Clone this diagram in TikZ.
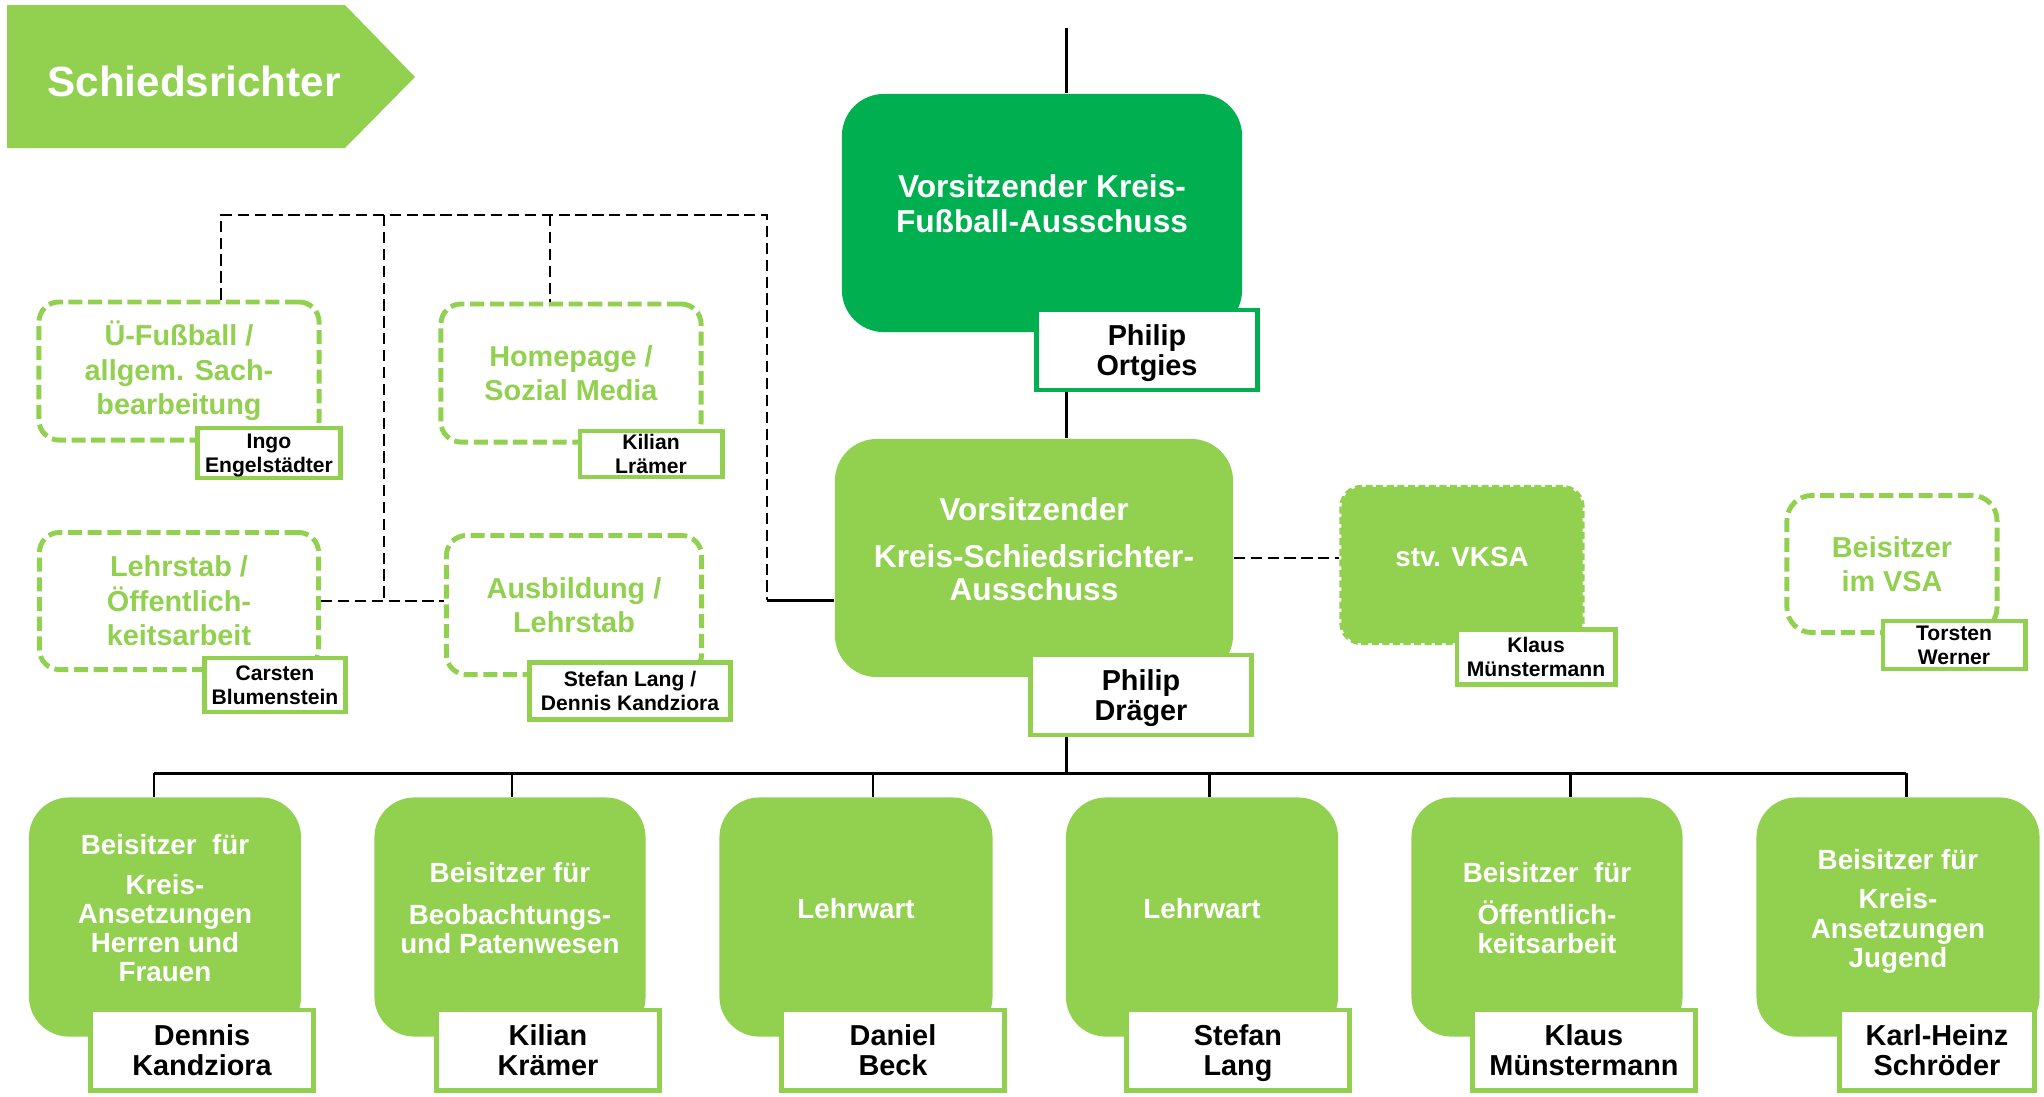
\documentclass[tikz,border=0pt]{standalone}
\usepackage{fontspec}
\setmainfont{Liberation Sans}
\usetikzlibrary{positioning}
\definecolor{kfagreen}{HTML}{00B050}
\definecolor{ksgreen}{HTML}{92D050}
\tikzset{
  bannertext/.style={text=white, font=\bfseries\fontsize{12}{14}\selectfont},
  leadbox/.style={rectangle, rounded corners=0.42cm, fill=ksgreen, text=white, align=center, inner sep=0pt,
    text depth=5.2pt, font=\bfseries\fontsize{9}{9.4}\selectfont},
  seatbox/.style={rectangle, rounded corners=0.4cm, fill=ksgreen, text=white, align=center, inner sep=0pt,
    minimum height=2.39cm, text depth=5pt, font=\bfseries\fontsize{7.9}{8.3}\selectfont},
  staffbox/.style={rectangle, rounded corners=0.2cm, draw=ksgreen, line width=1.4pt, dash pattern=on 4pt off 1.6pt,
    fill=white, text=ksgreen, align=center, inner sep=0pt, font=\bfseries\fontsize{8.2}{9.8}\selectfont},
  vksabox/.style={rectangle, rounded corners=0.2cm, fill=ksgreen, draw=ksgreen, line width=1.2pt,
    dash pattern=on 2pt off 1pt, text=white, inner sep=0pt, text depth=4.5pt, font=\bfseries\fontsize{7.9}{9}\selectfont},
  namebox/.style={rectangle, draw=ksgreen, line width=1.4pt, fill=white, text=black, align=center, inner sep=0pt,
    minimum height=0.8cm, text depth=0pt, font=\bfseries\fontsize{8.2}{8.5}\selectfont},
  namesmall/.style={namebox, font=\bfseries\fontsize{6}{6.8}\selectfont},
  conn/.style={black, line width=0.85pt},
  dconn/.style={black, line width=0.7pt, dash pattern=on 3.2pt off 1.6pt}
}
\begin{document}
\begin{tikzpicture}[x=0.01cm, y=-0.01cm]
\useasboundingbox (0,0) rectangle (2044,1096);

% Banner
\fill[ksgreen] (7,5) -- (345,5) -- (415,77) -- (345,148) -- (7,148) -- cycle;
\node[bannertext] (banner) at (194,81) {Schiedsrichter};

% Kreis-Fussball-Ausschuss
\node[leadbox, fill=kfagreen, minimum width=4.0cm, minimum height=2.38cm, text depth=5.6pt,
  font=\bfseries\fontsize{9}{9.9}\selectfont] (kfa) at (1042,213)
  {Vorsitzender Kreis-\\Fußball-Ausschuss};
\node[namebox, draw=kfagreen, minimum width=2.2cm] (kfaname) at (1147,350) {Philip\\Ortgies};

% Kreis-Schiedsrichter-Ausschuss
\node[leadbox, minimum width=3.98cm, minimum height=2.38cm] (ksa) at (1034,558)
  {Vorsitzender\\[4pt]Kreis-Schiedsrichter-\\Ausschuss};
\node[namebox, minimum width=2.21cm] (ksaname) at (1141,695) {Philip\\Dräger};

% Stab (gestrichelt)
\node[staffbox, minimum width=2.8cm, minimum height=1.38cm] (uefb) at (179,371) {Ü-Fußball /\\allgem. Sach-\\bearbeitung};
\node[namesmall, minimum width=1.42cm, minimum height=0.5cm] (uefbname) at (269,453) {Ingo\\Engelstädter};
\node[staffbox, minimum width=2.6cm, minimum height=1.38cm] (web) at (571,373) {Homepage /\\Sozial Media};
\node[namesmall, minimum width=1.42cm, minimum height=0.46cm] (webname) at (651,454) {Kilian\\Lrämer};
\node[staffbox, minimum width=2.79cm, minimum height=1.37cm] (pr) at (179,601) {Lehrstab /\\Öffentlich-\\keitsarbeit};
\node[namesmall, minimum width=1.41cm, minimum height=0.54cm] (prname) at (275,685) {Carsten\\Blumenstein};
\node[staffbox, minimum width=2.55cm, minimum height=1.39cm] (edu) at (574,605) {Ausbildung /\\Lehrstab};
\node[namesmall, minimum width=2.01cm, minimum height=0.57cm] (eduname) at (630,691) {Stefan Lang /\\Dennis Kandziora};

% Stellvertreter und VSA
\node[vksabox, minimum width=2.41cm, minimum height=1.56cm] (vksa) at (1462,565) {stv. VKSA};
\node[namesmall, minimum width=1.58cm, minimum height=0.55cm] (vksaname) at (1536,657) {Klaus\\Münstermann};
\node[staffbox, rounded corners=0.25cm, minimum width=2.1cm, minimum height=1.37cm] (vsa) at (1892,564) {Beisitzer\\im VSA};
\node[namesmall, minimum width=1.42cm, minimum height=0.48cm] (vsaname) at (1954,645) {Torsten\\Werner};

% Beisitzer
\node[seatbox, minimum width=2.72cm] (s1) at (165,917) {Beisitzer\ \ für\\[3pt]Kreis-\\Ansetzungen\\Herren und\\Frauen};
\node[namebox, minimum width=2.22cm] (s1name) at (202,1050) {Dennis\\Kandziora};
\node[seatbox, minimum width=2.71cm] (s2) at (510,917) {Beisitzer für\\[3.5pt]Beobachtungs-\\und Patenwesen};
\node[namebox, minimum width=2.23cm] (s2name) at (548,1050) {Kilian\\Krämer};
\node[seatbox, minimum width=2.73cm] (s3) at (856,917) {Lehrwart};
\node[namebox, minimum width=2.22cm] (s3name) at (893,1050) {Daniel\\Beck};
\node[seatbox, minimum width=2.72cm] (s4) at (1202,917) {Lehrwart};
\node[namebox, minimum width=2.22cm] (s4name) at (1238,1050) {Stefan\\Lang};
\node[seatbox, minimum width=2.71cm] (s5) at (1547,917) {Beisitzer\ \ für\\[3.5pt]Öffentlich-\\keitsarbeit};
\node[namebox, minimum width=2.22cm] (s5name) at (1584,1050) {Klaus\\Münstermann};
\node[seatbox, minimum width=2.83cm] (s6) at (1898,917) {Beisitzer für\\[3pt]Kreis-\\Ansetzungen\\Jugend};
\node[namebox, minimum width=1.95cm] (s6name) at (1937,1050) {Karl-Heinz\\Schröder};

% Linien
\coordinate (top) at (1066,28);
\coordinate (bus) at (1066,773);
\coordinate (busL) at (154,773);
\coordinate (busR) at (1906,773);
\draw[conn] (top) -- (top |- kfa.north);
\draw[conn] (kfaname.south -| top) -- (top |- ksa.north);
\draw[conn] (ksaname.south -| top) -- (bus);
\draw[conn] (busL) -- (busR);
\foreach \s/\x in {s1/154, s2/512, s3/873, s4/1209, s5/1570, s6/1906}
  \draw[conn] (\x,773) -- (\x,773 |- \s.north);

% gestrichelte Linien
\coordinate (dl) at (221,215);
\coordinate (dr) at (767,215);
\coordinate (dk) at (767,600);
\draw[dconn] (dl |- uefb.north) -- (dl) -- (dr) -- (dk);
\draw[dconn] (550,215) -- (550,215 |- web.north);
\draw[dconn] (384,215) -- (384,215 |- pr.east);
\draw[dconn] (pr.east) -- (pr.east -| edu.west);
\draw[conn] (dk) -- (dk -| ksa.west);
\draw[dconn] (ksa.east) -- (ksa.east -| vksa.west);

\end{tikzpicture}
\end{document}
